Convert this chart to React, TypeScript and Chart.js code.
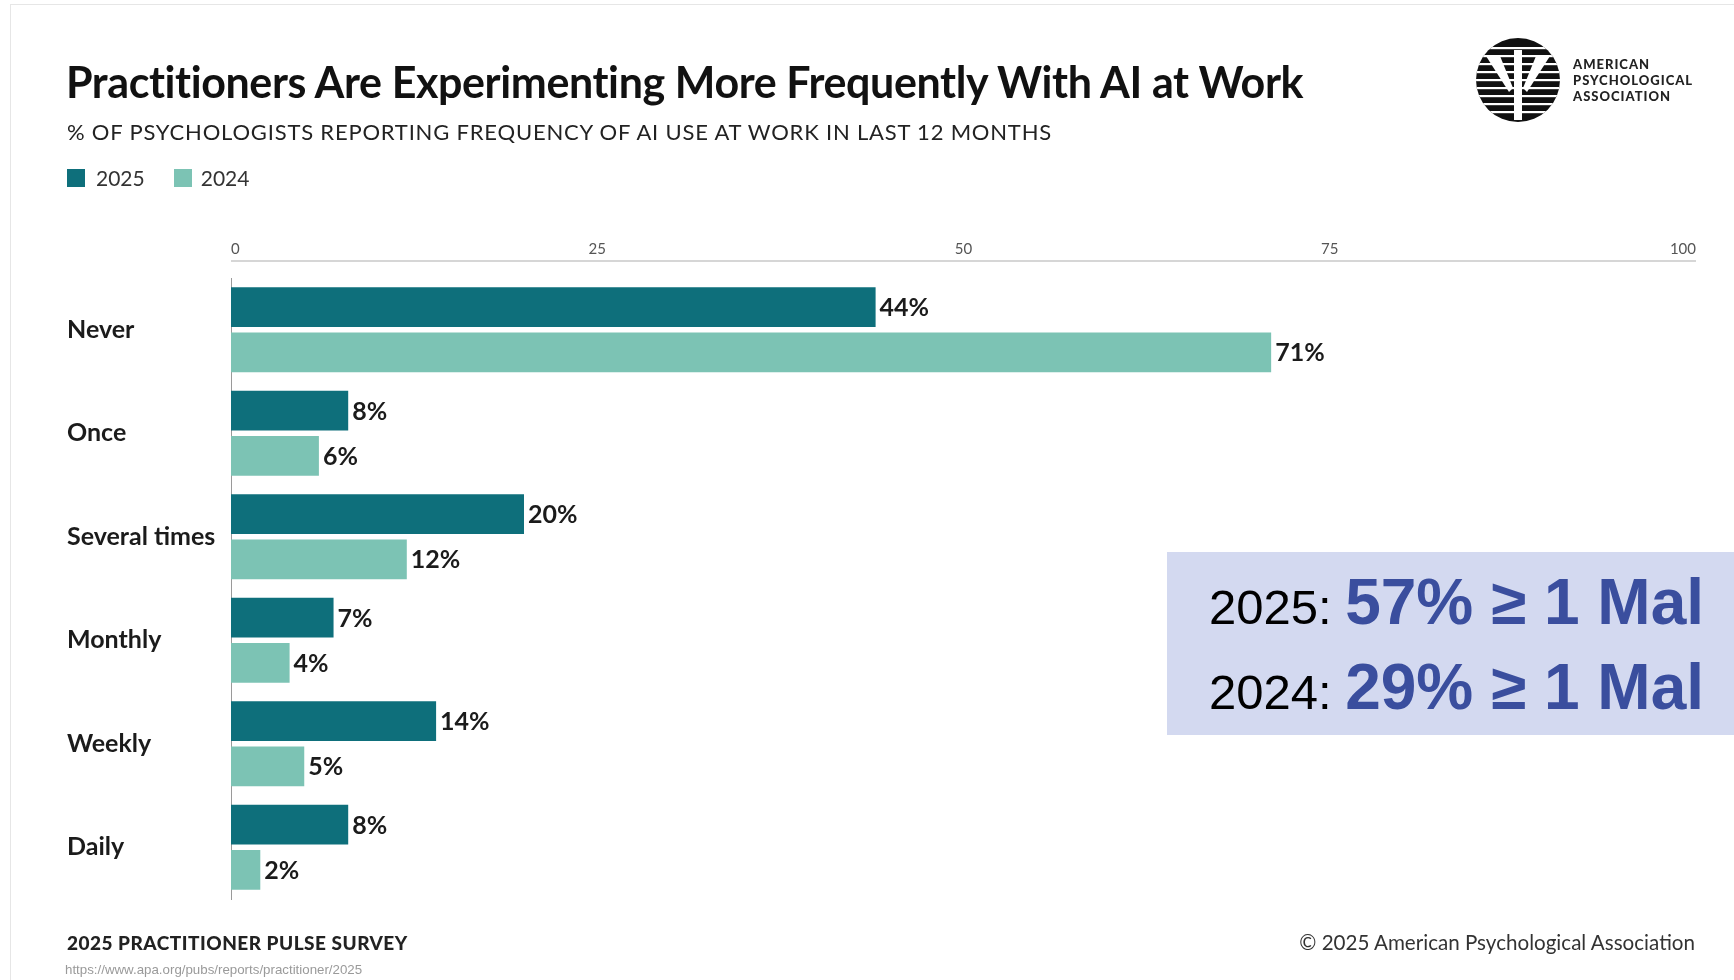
import React, { useEffect, useRef } from "react";
import { Chart, registerables } from "chart.js";

Chart.register(...registerables);

const categories = ["Never", "Once", "Several times", "Monthly", "Weekly", "Daily"];
const values2025 = [44, 8, 20, 7, 14, 8];
const values2024 = [71, 6, 12, 4, 5, 2];
const seriesLabels = ["2025", "2024"];
const xTickValues = [0, 25, 50, 75, 100];

const COLOR_2025 = "#0E6F7B";
const COLOR_2024 = "#7CC3B4";
const FONT = "Lato, 'Open Sans', sans-serif";

const valueLabelPlugin = {
  id: "valueLabels",
  afterDatasetsDraw(chart: any) {
    const ctx = chart.ctx;
    ctx.save();
    ctx.font = `700 25px ${FONT}`;
    ctx.fillStyle = "#1b1b1b";
    ctx.textAlign = "left";
    ctx.textBaseline = "middle";
    chart.data.datasets.forEach((ds: any, di: number) => {
      const meta = chart.getDatasetMeta(di);
      meta.data.forEach((bar: any, i: number) => {
        ctx.fillText(`${ds.data[i]}%`, bar.x + 4, bar.y + 1);
      });
    });
    ctx.restore();
  },
};

const topRulePlugin = {
  id: "topRule",
  afterDraw(chart: any) {
    const { ctx, chartArea } = chart;
    ctx.save();
    ctx.strokeStyle = "#d6d6d6";
    ctx.lineWidth = 2;
    ctx.beginPath();
    ctx.moveTo(chartArea.left, chartArea.top - 17);
    ctx.lineTo(chartArea.right, chartArea.top - 17);
    ctx.stroke();
    ctx.restore();
  },
};

function Logo() {
  return (
    <div style={{ position: "absolute", left: 1476, top: 38, display: "flex", alignItems: "center" }}>
      <svg width={84} height={84} viewBox="0 0 84 84">
        <defs>
          <clipPath id="apaClip">
            <circle cx={42} cy={42} r={42} />
          </clipPath>
        </defs>
        <g clipPath="url(#apaClip)">
          <rect x={0} y={0} width={84} height={84} fill="#111" />
          {[9, 17, 25, 33, 41, 49, 57, 65, 73].map((y) => (
            <rect key={y} x={0} y={y} width={84} height={2.2} fill="#fff" />
          ))}
          <polygon points="10,18 24,18 37,50 33,54" fill="#fff" />
          <polygon points="74,18 60,18 47,50 51,54" fill="#fff" />
          <rect x={38} y={12} width={8} height={70} fill="#fff" />
        </g>
      </svg>
      <div
        style={{
          marginLeft: 13,
          fontFamily: FONT,
          fontWeight: 900,
          fontSize: 13,
          letterSpacing: 1,
          lineHeight: "16px",
          color: "#222",
        }}
      >
        <div>AMERICAN</div>
        <div>PSYCHOLOGICAL</div>
        <div>ASSOCIATION</div>
      </div>
    </div>
  );
}

export default function App() {
  const canvasRef = useRef<HTMLCanvasElement | null>(null);

  useEffect(() => {
    const canvas = canvasRef.current;
    if (!canvas) return;
    const chart = new Chart(canvas, {
      type: "bar",
      data: {
        labels: categories,
        datasets: [
          {
            label: seriesLabels[0],
            data: values2025,
            backgroundColor: COLOR_2025,
            categoryPercentage: 0.875,
            barPercentage: 0.88,
          },
          {
            label: seriesLabels[1],
            data: values2024,
            backgroundColor: COLOR_2024,
            categoryPercentage: 0.875,
            barPercentage: 0.88,
          },
        ],
      },
      options: {
        indexAxis: "y",
        responsive: false,
        animation: false,
        layout: { padding: { left: 67, right: 38, top: 230, bottom: 81 } },
        plugins: {
          legend: { display: false },
          title: { display: false },
          tooltip: { enabled: false },
        },
        scales: {
          x: {
            position: "top",
            min: 0,
            max: 100,
            afterBuildTicks: (scale: any) => {
              scale.ticks = xTickValues.map((v) => ({ value: v }));
            },
            afterFit: (scale: any) => {
              scale.height = 48;
            },
            grid: { display: false, drawTicks: false },
            border: { display: false },
            ticks: {
              font: { family: FONT, size: 15 },
              color: "#555",
              padding: 20,
              align: "inner",
              maxRotation: 0,
            },
          },
          y: {
            afterFit: (scale: any) => {
              scale.width = 164;
            },
            grid: { display: false, drawTicks: false },
            border: { display: true, color: "#9a9a9a", width: 1 },
            ticks: {
              crossAlign: "far",
              font: { family: FONT, size: 25, weight: "bold" },
              color: "#1b1b1b",
              padding: 0,
            },
          },
        },
      },
      plugins: [valueLabelPlugin, topRulePlugin],
    } as any);
    return () => chart.destroy();
  }, []);

  return (
    <div
      style={{
        position: "fixed",
        left: 0,
        top: 0,
        width: 1734,
        height: 980,
        background: "#fff",
        overflow: "hidden",
        fontFamily: FONT,
      }}
    >
      <div
        style={{
          position: "absolute",
          left: 10,
          top: 4,
          width: 1724,
          height: 976,
          borderTop: "1px solid #e6e6e6",
          borderLeft: "1px solid #e6e6e6",
        }}
      />
      <canvas ref={canvasRef} width={1734} height={980} style={{ position: "absolute", left: 0, top: 0 }} />
      <div
        style={{
          position: "absolute",
          left: 66,
          top: 57,
          fontSize: 43,
          fontWeight: 700,
          color: "#111",
          whiteSpace: "nowrap",
          letterSpacing: -0.4,
          lineHeight: "50px",
        }}
      >
        Practitioners Are Experimenting More Frequently With AI at Work
      </div>
      <div
        style={{
          position: "absolute",
          left: 67,
          top: 118,
          fontSize: 22,
          color: "#222",
          whiteSpace: "nowrap",
          letterSpacing: 0.8,
          lineHeight: "28px",
        }}
      >
        % OF PSYCHOLOGISTS REPORTING FREQUENCY OF AI USE AT WORK IN LAST 12 MONTHS
      </div>
      <div
        style={{
          position: "absolute",
          left: 67,
          top: 166,
          display: "flex",
          alignItems: "center",
          fontSize: 21,
          color: "#333",
          lineHeight: "24px",
        }}
      >
        <span style={{ width: 18, height: 18, background: COLOR_2025, display: "inline-block", marginRight: 11 }} />
        <span>{seriesLabels[0]}</span>
        <span
          style={{ width: 18, height: 18, background: COLOR_2024, display: "inline-block", marginLeft: 29, marginRight: 9 }}
        />
        <span>{seriesLabels[1]}</span>
      </div>
      <Logo />
      <div
        style={{
          position: "absolute",
          left: 1167,
          top: 552,
          width: 567,
          height: 183,
          background: "#D3D9F0",
        }}
      >
        <div
          style={{
            position: "absolute",
            right: 30,
            top: 16,
            whiteSpace: "nowrap",
            fontFamily: "'Liberation Sans', Arial, sans-serif",
            lineHeight: "69px",
          }}
        >
          <div>
            <span style={{ fontSize: 49, color: "#000" }}>2025: </span>
            <span style={{ fontSize: 64, fontWeight: 700, color: "#3A4E9E" }}>57% ≥ 1 Mal</span>
          </div>
          <div>
            <span style={{ fontSize: 49, color: "#000" }}>2024: </span>
            <span style={{ fontSize: 64, fontWeight: 700, color: "#3A4E9E" }}>29% ≥ 1 Mal</span>
          </div>
        </div>
      </div>
      <div
        style={{
          position: "absolute",
          left: 67,
          top: 931,
          fontSize: 19,
          fontWeight: 900,
          color: "#222",
          letterSpacing: 0.5,
          whiteSpace: "nowrap",
        }}
      >
        2025 PRACTITIONER PULSE SURVEY
      </div>
      <div
        style={{
          position: "absolute",
          right: 39,
          top: 930,
          fontSize: 20.6,
          color: "#333",
          whiteSpace: "nowrap",
        }}
      >
        © 2025 American Psychological Association
      </div>
      <div
        style={{
          position: "absolute",
          left: 65,
          top: 962,
          fontSize: 13.3,
          color: "#9a9a9a",
          fontFamily: "'Liberation Sans', Arial, sans-serif",
          whiteSpace: "nowrap",
        }}
      >
        https://www.apa.org/pubs/reports/practitioner/2025
      </div>
    </div>
  );
}
